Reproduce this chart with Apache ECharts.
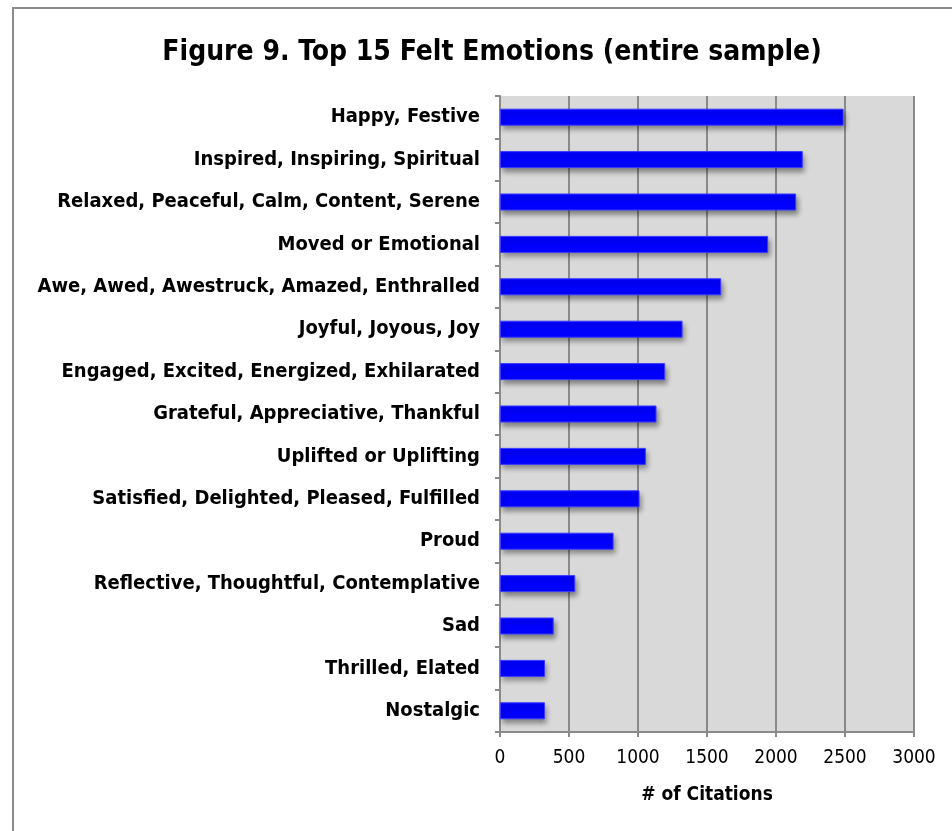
<!DOCTYPE html>
<html>
<head>
<meta charset="utf-8">
<script src="https://cdn.jsdelivr.net/npm/echarts@6/dist/echarts.min.js"></script>
<style>
html,body{margin:0;padding:0;background:#fff;}
#chart{width:952px;height:831px;}
</style>
</head>
<body>
<div id="chart"></div>
<script>
const titleText = 'Figure 9. Top 15 Felt Emotions (entire sample)';
const categories = [
  'Happy, Festive',
  'Inspired, Inspiring, Spiritual',
  'Relaxed, Peaceful, Calm, Content, Serene',
  'Moved or Emotional',
  'Awe, Awed, Awestruck, Amazed, Enthralled',
  'Joyful, Joyous, Joy',
  'Engaged, Excited, Energized, Exhilarated',
  'Grateful, Appreciative, Thankful',
  'Uplifted or Uplifting',
  'Satisfied, Delighted, Pleased, Fulfilled',
  'Proud',
  'Reflective, Thoughtful, Contemplative',
  'Sad',
  'Thrilled, Elated',
  'Nostalgic'
];
const citations = [2490, 2194, 2146, 1943, 1603, 1323, 1197, 1134, 1057, 1011, 823, 545, 389, 326, 326];
const xAxisName = '# of Citations';
const xMin = 0, xMax = 3000, xStep = 500;

const FONT = '"DejaVu Sans Condensed", "DejaVu Sans", sans-serif';
const chart = echarts.init(document.getElementById('chart'), null, {renderer: 'canvas'});
chart.setOption({
  backgroundColor: '#ffffff',
  animation: false,
  title: {
    text: titleText,
    left: 487, top: 34, textAlign: 'center',
    textStyle: {fontFamily: FONT, fontWeight: 'bold', fontSize: 28, color: '#000'}
  },
  graphic: [{
    type: 'rect', z: 100, silent: true,
    shape: {x: 13, y: 8, width: 1200, height: 1200},
    style: {fill: 'none', stroke: '#8a8a8a', lineWidth: 2}
  }],
  grid: {
    left: 500, right: 38, top: 96, bottom: 99,
    show: true, backgroundColor: '#d9d9d9', borderWidth: 0
  },
  xAxis: {
    type: 'value', min: xMin, max: xMax, interval: xStep,
    name: xAxisName, nameLocation: 'middle', nameGap: 54,
    nameTextStyle: {fontFamily: FONT, fontWeight: 'bold', fontSize: 19, color: '#000'},
    axisLine: {show: true, lineStyle: {color: '#8a8a8a', width: 2}},
    axisTick: {show: true, length: 5, lineStyle: {color: '#8a8a8a', width: 2}},
    axisLabel: {fontFamily: FONT, fontSize: 19, color: '#000', margin: 17,
      formatter: function (v) { return String(v); }},
    splitLine: {show: true, lineStyle: {color: '#8a8a8a', width: 2}}
  },
  yAxis: {
    type: 'category', data: categories, inverse: true,
    axisLine: {show: true, lineStyle: {color: '#8a8a8a', width: 2}},
    axisTick: {show: true, length: 5, lineStyle: {color: '#8a8a8a', width: 2}},
    axisLabel: {fontFamily: FONT, fontWeight: 'bold', fontSize: 20, color: '#000', margin: 20},
    splitLine: {show: false}
  },
  series: [{
    type: 'bar', data: citations, barWidth: 17,
    itemStyle: {
      color: '#0000ff', borderColor: '#3a3aff', borderWidth: 1,
      shadowColor: 'rgba(0,0,0,0.4)', shadowBlur: 5, shadowOffsetX: 2, shadowOffsetY: 4
    }
  }]
});
</script>
</body>
</html>
